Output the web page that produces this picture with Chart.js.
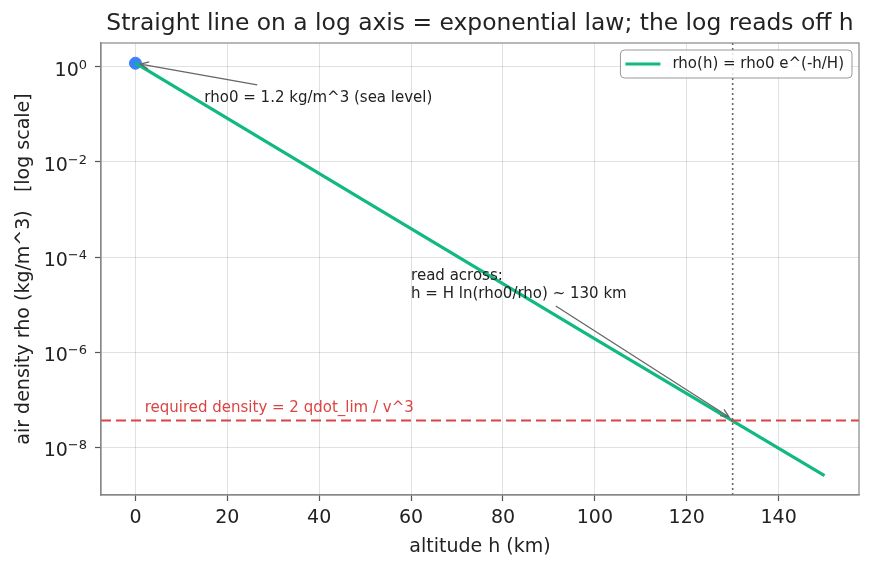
<!DOCTYPE html>
<html>
<head>
<meta charset="utf-8">
<script src="https://cdn.jsdelivr.net/npm/chart.js@4.4.1/dist/chart.umd.min.js"></script>
<style>
  body { margin: 0; background: #fff; }
  #wrap { width: 874px; height: 569px; }
</style>
</head>
<body>
<div id="wrap"><canvas id="densityChart" width="874" height="569"></canvas></div>
<script>
// values
const altitudeKm = [0, 50, 100, 150];
const densityKgM3 = [1.2, 1.5e-3, 1.9e-6, 2.5e-9];
const seaLevelH = [0];
const seaLevelRho = [1.2];
const requiredDensity = 3.6e-8;
const crossingAltitude = 130;
const xTicks = [0, 20, 40, 60, 80, 100, 120, 140];
const yTicks = [1e-8, 1e-6, 1e-4, 1e-2, 1];

const xMin = -7.5, xMax = 157.5;
const yMin = Math.pow(10, -9.01), yMax = Math.pow(10, 0.505);

const FONT = "'DejaVu Sans', 'Liberation Sans', sans-serif";
const GREEN = "#10b981";
const RED = "#dc4444";

function arrow(ctx, x0, y0, x1, y1) {
  const a = Math.atan2(y1 - y0, x1 - x0);
  const L = 9, w = 0.42;
  ctx.beginPath();
  ctx.moveTo(x0, y0);
  ctx.lineTo(x1, y1);
  ctx.moveTo(x1 - L * Math.cos(a - w), y1 - L * Math.sin(a - w));
  ctx.lineTo(x1, y1);
  ctx.lineTo(x1 - L * Math.cos(a + w), y1 - L * Math.sin(a + w));
  ctx.stroke();
}

const decorations = {
  id: "decorations",
  afterDatasetsDraw(chart) {
    const { ctx, chartArea, scales } = chart;
    const x = scales.x, y = scales.y;
    ctx.save();

    // frame
    ctx.strokeStyle = "#888";
    ctx.lineWidth = 1.2;
    ctx.strokeRect(chartArea.left, chartArea.top, chartArea.right - chartArea.left, chartArea.bottom - chartArea.top);

    // y tick labels as 10 with a raised exponent
    ctx.fillStyle = "#222";
    ctx.textAlign = "left";
    ctx.textBaseline = "alphabetic";
    yTicks.forEach((v) => {
      const py = y.getPixelForValue(v);
      const e = String(Math.round(Math.log10(v))).replace("-", "\u2212");
      ctx.font = "13px " + FONT;
      const ew = ctx.measureText(e).width;
      ctx.font = "19px " + FONT;
      const bw = ctx.measureText("10").width;
      const right = chartArea.left - 14;
      ctx.fillText("10", right - ew - bw, py + 9);
      ctx.font = "13px " + FONT;
      ctx.fillText(e, right - ew, py + 2);
    });

    // annotations
    ctx.strokeStyle = "#666";
    ctx.lineWidth = 1.3;
    arrow(ctx, x.getPixelForValue(26.5), y.getPixelForValue(0.42), x.getPixelForValue(1.1), y.getPixelForValue(1.15));
    arrow(ctx, x.getPixelForValue(91.5), y.getPixelForValue(9.3e-6), x.getPixelForValue(129.2), y.getPixelForValue(4.3e-8));

    ctx.fillStyle = "#222";
    ctx.font = "15px " + FONT;
    ctx.textAlign = "left";
    ctx.textBaseline = "middle";
    ctx.fillText("rho0 = 1.2 kg/m^3 (sea level)", x.getPixelForValue(15), y.getPixelForValue(0.22));
    const tx = x.getPixelForValue(60), ty = y.getPixelForValue(4.0e-5);
    ctx.fillText("read across:", tx, ty);
    ctx.fillText("h = H ln(rho0/rho) ~ 130 km", tx, ty + 18);

    ctx.fillStyle = RED;
    ctx.fillText("required density = 2 qdot_lim / v^3", x.getPixelForValue(2), y.getPixelForValue(requiredDensity) - 12);

    // legend
    const label = "rho(h) = rho0 e^(-h/H)";
    const tw = ctx.measureText(label).width;
    const bw = 5 + 35 + 12 + tw + 8, bh = 28;
    const bx = chartArea.right - 7 - bw, by = chartArea.top + 7;
    ctx.fillStyle = "rgba(255,255,255,0.85)";
    ctx.strokeStyle = "#999";
    ctx.lineWidth = 1;
    ctx.beginPath();
    ctx.roundRect(bx, by, bw, bh, 4);
    ctx.fill();
    ctx.stroke();
    ctx.strokeStyle = GREEN;
    ctx.lineWidth = 3;
    ctx.beginPath();
    ctx.moveTo(bx + 5, by + bh / 2);
    ctx.lineTo(bx + 40, by + bh / 2);
    ctx.stroke();
    ctx.fillStyle = "#222";
    ctx.fillText(label, bx + 52, by + bh / 2 + 0.5);

    // title
    ctx.font = "23.4px " + FONT;
    ctx.textAlign = "center";
    ctx.fillText("Straight line on a log axis = exponential law; the log reads off h", (chartArea.left + chartArea.right) / 2, 24);
    ctx.restore();
  },
};

new Chart(document.getElementById("densityChart"), {
  type: "line",
  data: {
    datasets: [
      {
        data: [{ x: crossingAltitude, y: yMin }, { x: crossingAltitude, y: yMax }],
        borderColor: "#666",
        borderWidth: 1.6,
        borderDash: [2, 3],
        pointRadius: 0,
      },
      {
        data: [{ x: xMin, y: requiredDensity }, { x: xMax, y: requiredDensity }],
        borderColor: RED,
        borderWidth: 2,
        borderDash: [10, 5],
        pointRadius: 0,
      },
      {
        label: "rho(h) = rho0 e^(-h/H)",
        data: altitudeKm.map((h, i) => ({ x: h, y: densityKgM3[i] })),
        borderColor: GREEN,
        borderWidth: 3.2,
        pointRadius: 0,
        tension: 0,
      },
      {
        data: seaLevelH.map((h, i) => ({ x: h, y: seaLevelRho[i] })),
        showLine: false,
        pointRadius: 6,
        pointBackgroundColor: "#3b82f6",
        pointBorderColor: "#3b82f6",
      },
    ],
  },
  options: {
    responsive: false,
    animation: false,
    events: [],
    layout: { padding: { left: 0, right: 15, top: 43, bottom: 0 } },
    plugins: {
      legend: { display: false },
      title: { display: false },
      tooltip: { enabled: false },
    },
    scales: {
      x: {
        type: "linear",
        min: xMin,
        max: xMax,
        afterBuildTicks: (s) => { s.ticks = xTicks.map((v) => ({ value: v })); },
        afterFit: (s) => { s.height = 74; },
        ticks: { color: "#222", padding: 6, font: { family: FONT, size: 19 }, callback: (v) => String(v) },
        grid: { color: "rgba(0,0,0,0.15)", lineWidth: 0.8, tickLength: 6, tickColor: "#555", tickWidth: 1.2 },
        border: { display: true, color: "#888", width: 1.2 },
        title: { display: true, text: "altitude h (km)", color: "#222", font: { family: FONT, size: 19 }, padding: { top: 0, bottom: 11 } },
      },
      y: {
        type: "logarithmic",
        min: yMin,
        max: yMax,
        afterBuildTicks: (s) => { s.ticks = yTicks.map((v) => ({ value: v })); },
        afterFit: (s) => { s.width = 101; },
        ticks: { color: "#222", padding: 5, font: { family: FONT, size: 19 }, callback: () => "" },
        grid: { color: "rgba(0,0,0,0.15)", lineWidth: 0.8, tickLength: 6, tickColor: "#555", tickWidth: 1.2 },
        border: { display: true, color: "#888", width: 1.2 },
        title: { display: true, text: "air density rho (kg/m^3)   [log scale]", color: "#222", font: { family: FONT, size: 19 }, padding: { top: 13, bottom: 0 } },
      },
    },
  },
  plugins: [decorations],
});
</script>
</body>
</html>
